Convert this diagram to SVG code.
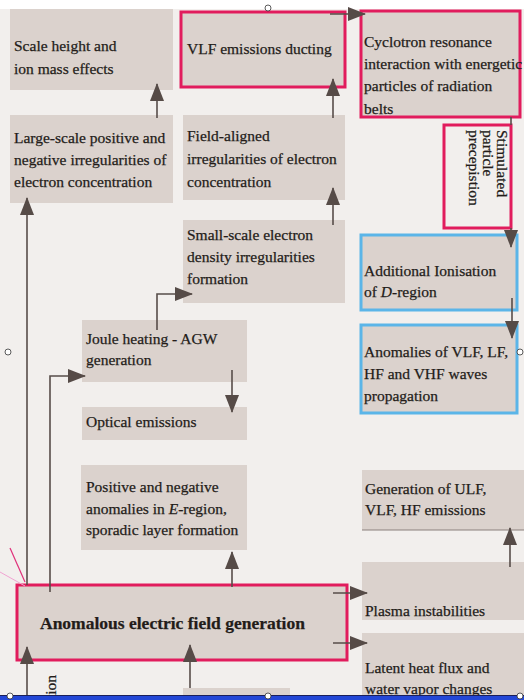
<svg xmlns="http://www.w3.org/2000/svg" width="524" height="700" viewBox="0 0 524 700">
<defs>
<style>
.bx{fill:#dbd2cd;}
.pk{fill:#dbd2cd;stroke:#e11c5d;stroke-width:3;}
.bl{fill:#dbd2cd;stroke:#5bb5e8;stroke-width:3;}
text{font-family:"Liberation Serif","Times New Roman",serif;font-size:15.5px;fill:#231c19;stroke:#231c19;stroke-width:0.25;}
.b{font-weight:bold;font-size:17.5px;}
.ln{fill:none;stroke:#574d49;stroke-width:1.6;}
.la{fill:none;stroke:#574d49;stroke-width:1.6;marker-end:url(#ah);}
.hd{fill:#fff;stroke:#333;stroke-width:0.8;}
</style>
<marker id="ah" viewBox="0 0 18 14" refX="17" refY="7" markerWidth="18" markerHeight="14" orient="auto" markerUnits="userSpaceOnUse">
<path d="M0,0 L18,7 L0,14 z" fill="#564b47"/>
</marker>
</defs>
<rect x="0" y="0" width="524" height="700" fill="#f2efed"/>
<rect x="0" y="0" width="524" height="9" fill="#ffffff"/>

<g id="scale-height"><rect class="bx" x="10" y="9" width="163" height="81"/>
<text x="14" y="51">Scale height and</text><text x="14" y="74">ion mass effects</text></g>

<g id="large-scale"><rect class="bx" x="10" y="115" width="163" height="88"/>
<text x="14" y="143">Large-scale positive and</text><text x="14" y="165">negative irregularities of</text><text x="14" y="187">electron concentration</text></g>

<g id="vlf-ducting"><rect class="pk" x="181" y="12" width="164" height="75"/>
<text x="187" y="54">VLF emissions ducting</text></g>

<g id="field-aligned"><rect class="bx" x="183" y="115" width="162" height="85"/>
<text x="187" y="141">Field-aligned</text><text x="187" y="164">irregularities of electron</text><text x="187" y="187">concentration</text></g>

<g id="cyclotron"><rect class="pk" x="361" y="11" width="159" height="106"/>
<text x="364" y="47">Cyclotron resonance</text><text x="364" y="69">interaction with energetic</text><text x="364" y="91">particles of radiation</text><text x="364" y="114">belts</text></g>

<g id="stimulated"><rect class="pk" x="444" y="125" width="67" height="103" style="fill:none"/>
<text transform="rotate(90)"><tspan x="130" y="-497">Stimulated</tspan><tspan x="130" y="-483">particle</tspan><tspan x="130" y="-469">precepistion</tspan></text></g>

<g id="small-scale"><rect class="bx" x="183" y="220" width="162" height="83"/>
<text x="187" y="240">Small-scale electron</text><text x="187" y="262">density irregularities</text><text x="187" y="284">formation</text></g>

<g id="additional-ionisation"><rect class="bl" x="361" y="235" width="156" height="75"/>
<text x="364" y="276">Additional Ionisation</text><text x="364" y="297">of <tspan font-style="italic">D</tspan>-region</text></g>

<g id="anomalies-waves"><rect class="bl" x="361" y="325" width="156" height="88"/>
<text x="364" y="357">Anomalies of VLF, LF,</text><text x="364" y="379">HF and VHF waves</text><text x="364" y="401">propagation</text></g>

<g id="joule"><rect class="bx" x="82" y="320" width="165" height="62"/>
<text x="86" y="344">Joule heating - AGW</text><text x="86" y="365">generation</text></g>

<g id="optical"><rect class="bx" x="82" y="407" width="165" height="33"/>
<text x="86" y="427">Optical emissions</text></g>

<g id="e-region"><rect class="bx" x="81" y="465" width="166" height="85"/>
<text x="86" y="492">Positive and negative</text><text x="86" y="514">anomalies in <tspan font-style="italic">E</tspan>-region,</text><text x="86" y="535">sporadic layer formation</text></g>

<g id="ulf-generation"><rect class="bx" x="362" y="470" width="162" height="60"/>
<line x1="362" y1="530" x2="524" y2="530" stroke="#8a807c" stroke-width="1"/>
<text x="365" y="494">Generation of ULF,</text><text x="365" y="515">VLF, HF emissions</text></g>

<g id="plasma"><rect class="bx" x="362" y="562" width="162" height="58"/>
<text x="365" y="616">Plasma instabilities</text></g>

<g id="latent-heat"><rect class="bx" x="362" y="633" width="162" height="67"/>
<text x="365" y="673">Latent heat flux and</text><text x="365" y="694">water vapor changes</text></g>

<g id="agw-bottom"><rect class="bx" x="183" y="688" width="107" height="12"/></g>

<g id="main"><rect class="pk" x="17" y="585" width="330" height="75"/>
<text class="b" x="40" y="629">Anomalous electric field generation</text></g>

<g id="side-label"><text transform="translate(56,699) rotate(-90)">tion</text></g>

<g id="connectors">
<path class="la" d="M157,118 L157,84"/>
<path class="la" d="M27,585 L27,198"/>
<path class="la" d="M50,592 L50,376 L85,376"/>
<path class="la" d="M157,330 L157,294 L192,294"/>
<path class="la" d="M333,225 L333,188"/>
<path class="la" d="M333,118 L333,79"/>
<path class="la" d="M330,14 L365,14"/>
<path class="ln" d="M511,117 L511,125"/>
<path class="la" d="M511,228 L511,247"/>
<path class="la" d="M512,298 L512,338"/>
<path class="la" d="M232,370 L232,412"/>
<path class="la" d="M232,587 L232,552"/>
<path class="la" d="M333,593 L367,593"/>
<path class="la" d="M333,643 L367,643"/>
<path class="la" d="M510,567 L510,528"/>
<path class="la" d="M27,700 L27,647"/>
<path class="la" d="M190,688 L190,645"/>
</g>

<g id="decor">
<line x1="10" y1="548" x2="25" y2="582" stroke="#e0307a" stroke-width="1.2"/>
<line x1="0" y1="572" x2="25" y2="586" stroke="#f0a3d2" stroke-width="1"/>
<rect x="0" y="696" width="524" height="4" fill="#2347d6"/>
<line x1="0" y1="695.5" x2="524" y2="695.5" stroke="#1a1f5a" stroke-width="1"/>
<circle class="hd" cx="268" cy="8" r="3"/>
<circle class="hd" cx="8" cy="352" r="3"/>
<circle class="hd" cx="520" cy="352" r="3"/>
<circle class="hd" cx="268" cy="696" r="3"/>
<circle class="hd" cx="10" cy="696" r="3"/>
<circle class="hd" cx="520" cy="696" r="3"/>
</g>
</svg>
